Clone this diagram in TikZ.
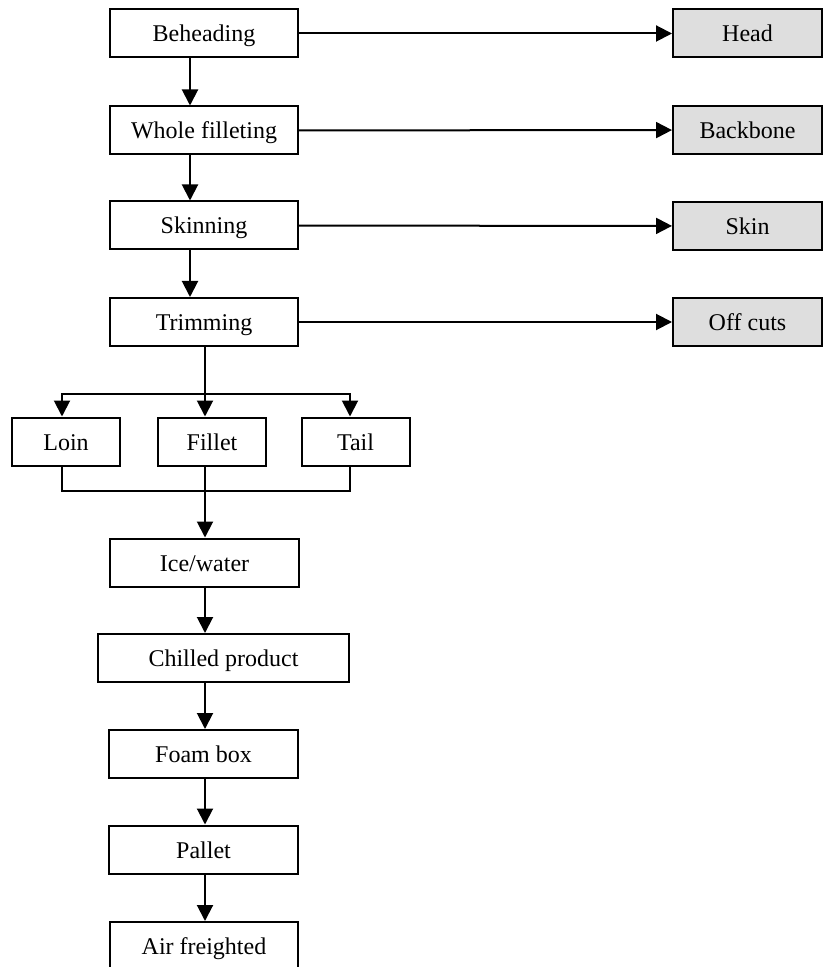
\documentclass[tikz,border=0pt]{standalone}
\usepackage{fontspec}
\setmainfont{Liberation Serif}
\usetikzlibrary{arrows.meta}
\definecolor{wastegray}{gray}{0.87}
\tikzset{
    procbox/.style={draw,line width=1pt,inner sep=0pt,minimum height=24pt,
        text height=8.5pt,text depth=0pt,
        font=\fontsize{12pt}{14pt}\selectfont},
    wastebox/.style={procbox,fill=wastegray,minimum width=74.5pt},
    flow/.style={line width=1pt,-{Triangle[width=8pt,length=8pt]}}
}
\begin{document}
\begin{tikzpicture}[x=0.5pt,y=-0.5pt]
            \useasboundingbox (0,0) rectangle (823,967);
            % Main line
            \node [procbox,minimum width=94pt] (behead) at (204,33.5) {Beheading};
            \node [procbox,minimum width=94pt] (whole) at (204,130.5) {Whole filleting};
            \node [procbox,minimum width=94pt] (skinning) at (204,225.5) {Skinning};
            \node [procbox,minimum width=94pt] (trim) at (204,322) {Trimming};
            \node [procbox,minimum width=54pt] (loin) at (66,441.5) {Loin};
            \node [procbox,minimum width=54pt] (fillet) at (212,441.5) {Fillet};
            \node [procbox,minimum width=54pt] (tail) at (355.5,441.5) {Tail};
            \node [procbox,minimum width=94.5pt] (ice) at (204.5,562.5) {Ice/water};
            \node [procbox,minimum width=125.5pt] (chilled) at (223.5,658) {Chilled product};
            \node [procbox,minimum width=94.5pt] (foam) at (203.5,754) {Foam box};
            \node [procbox,minimum width=94.5pt] (pallet) at (203.5,849.5) {Pallet};
            \node [procbox,minimum width=94pt] (air) at (204,946) {Air freighted};
    
            % By-products
            \node [wastebox] (head) at (747.5,33.5) {Head};
            \node [wastebox] (backbone) at (747.5,130) {Backbone};
            \node [wastebox] (skin) at (747.5,226) {Skin};
            \node [wastebox] (offcuts) at (747.5,322) {Off cuts};

            \draw [flow] (behead) -- (head);
            \draw [flow] (whole) -- (backbone);
            \draw [flow] (skinning) -- (skin);
            \draw [flow] (trim) -- (offcuts);

            \draw [flow] ([xshift=-7pt]behead.south) -- ([xshift=-7pt]whole.north);
            \draw [flow] ([xshift=-7pt]whole.south) -- ([xshift=-7pt]skinning.north);
            \draw [flow] ([xshift=-7pt]skinning.south) -- ([xshift=-7pt]trim.north);

            % Split into cuts
            \coordinate (split) at (205,394);
            \coordinate (join) at (205,491);
            \draw [line width=1pt] (trim.south -| split) -- (split);
            \draw [flow] (split) -- (split |- fillet.north);
            \draw [flow] (split) -| ([xshift=-2pt]loin.north);
            \draw [flow] (split) -| ([xshift=-2.75pt]tail.north);
            \draw [line width=1pt] ([xshift=-2pt]loin.south) |- (join) -| ([xshift=-2.75pt]tail.south);
            \draw [flow] (fillet.south -| join) -- (ice.north -| join);

            \draw [flow] (ice.south -| join) -- (chilled.north -| join);
            \draw [flow] (chilled.south -| join) -- (foam.north -| join);
            \draw [flow] (foam.south -| join) -- (pallet.north -| join);
            \draw [flow] (pallet.south -| join) -- (air.north -| join);
        \end{tikzpicture}
\end{document}
